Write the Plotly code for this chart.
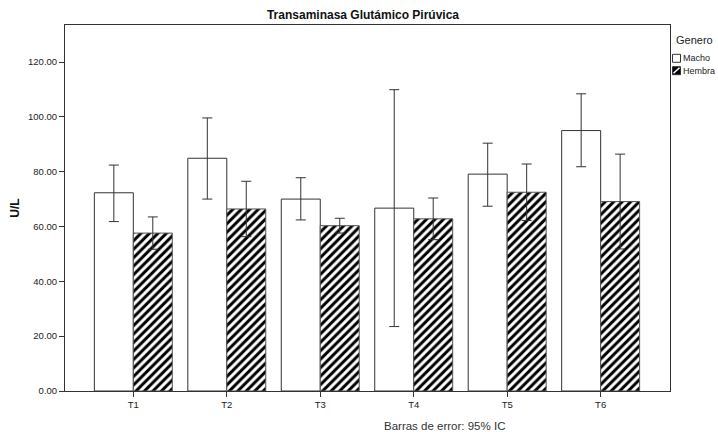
import plotly.graph_objects as go

categories = ["T1", "T2", "T3", "T4", "T5", "T6"]
macho_mean = [72.3, 84.9, 70.0, 66.7, 79.1, 95.0]
macho_upper = [82.4, 99.6, 77.8, 109.9, 90.4, 108.4]
macho_lower = [61.8, 70.0, 62.4, 23.5, 67.4, 81.8]
hembra_mean = [57.6, 66.4, 60.3, 62.8, 72.5, 69.1]
hembra_upper = [63.5, 76.5, 63.0, 70.4, 82.8, 86.4]
hembra_lower = [51.7, 56.3, 57.6, 55.2, 62.2, 51.8]
series_names = ["Macho", "Hembra"]
legend_title = "Genero"

FONT = "Liberation Sans, Arial, sans-serif"
EC = "#333333"
W, H = 718, 432
ML, MR, MT, MB = 65, 48, 25, 41
PW, PH = W - ML - MR, H - MT - MB


def px(x):
    return (x - ML) / PW


def py(y):
    return (H - MB - y) / PH


def err(mean, up, lo):
    return dict(type="data", symmetric=False,
                array=[u - m for u, m in zip(up, mean)],
                arrayminus=[m - l for m, l in zip(mean, lo)],
                color=EC, thickness=1, width=5)


fig = go.Figure()
fig.add_trace(go.Bar(
    x=categories, y=macho_mean, name=series_names[0],
    marker=dict(color="white", line=dict(color=EC, width=1)),
    error_y=err(macho_mean, macho_upper, macho_lower),
))
fig.add_trace(go.Bar(
    x=categories, y=hembra_mean, name=series_names[1],
    marker=dict(color="black", line=dict(color="#555555", width=1),
                pattern=dict(shape="/", fillmode="replace", bgcolor="black",
                             fgcolor="white", fgopacity=1, size=6, solidity=0.5)),
    error_y=err(hembra_mean, hembra_upper, hembra_lower),
))

# manual legend (compact, like the original)
shapes = [
    dict(type="rect", xref="paper", yref="paper", x0=px(672.5), x1=px(680.5),
         y0=py(62.3), y1=py(54.3), fillcolor="white", line=dict(color=EC, width=1)),
    dict(type="rect", xref="paper", yref="paper", x0=px(672.5), x1=px(680.5),
         y0=py(74.7), y1=py(66.7), fillcolor="black", line=dict(color=EC, width=1)),
    dict(type="line", xref="paper", yref="paper", x0=px(673.5), x1=px(679.5),
         y0=py(73.2), y1=py(67.7), line=dict(color="white", width=1.5)),
]
annotations = [
    dict(text=legend_title, xref="paper", yref="paper", x=px(674), y=py(40),
         xanchor="left", yanchor="middle", showarrow=False,
         font=dict(size=11, color="#222222")),
    dict(text=series_names[0], xref="paper", yref="paper", x=px(681), y=py(58.3),
         xanchor="left", yanchor="middle", showarrow=False,
         font=dict(size=9, color="#222222")),
    dict(text=series_names[1], xref="paper", yref="paper", x=px(681), y=py(70.7),
         xanchor="left", yanchor="middle", showarrow=False,
         font=dict(size=9, color="#222222")),
    dict(text="Barras de error: 95% IC", xref="paper", yref="paper",
         x=px(444), y=py(425.5), xanchor="center", yanchor="middle",
         showarrow=False, font=dict(size=11.5, color="#333333")),
]

fig.update_layout(
    width=W, height=H,
    margin=dict(l=ML, r=MR, t=MT, b=MB, pad=0, autoexpand=False),
    paper_bgcolor="white", plot_bgcolor="white",
    barmode="group", bargap=0.166, bargroupgap=0,
    font=dict(family=FONT, size=9.5, color="#222222"),
    title=dict(text="<b>Transaminasa Glutámico Pirúvica</b>", x=px(363),
               xanchor="center", xref="paper",
               y=1 - 15 / H, yanchor="middle", font=dict(size=12, color="#111111")),
    showlegend=False,
    shapes=shapes,
    annotations=annotations,
)
fig.update_xaxes(range=[-0.731, 5.742], showline=True, linecolor=EC, linewidth=1,
                 mirror=True, ticks="outside", ticklen=5, tickcolor=EC,
                 showgrid=False, tickfont=dict(size=9.5), automargin=False)
fig.update_yaxes(range=[0, 133.5], showline=True, linecolor=EC, linewidth=1,
                 mirror=True, ticks="outside", ticklen=5, tickcolor=EC,
                 tickvals=[0, 20, 40, 60, 80, 100, 120], tickformat=".2f",
                 showgrid=False, zeroline=False, tickfont=dict(size=9.5), automargin=False,
                 title=dict(text="<b>U/L</b>", font=dict(size=12, color="#111111"), standoff=5))

fig.write_html("out.html", config={"displayModeBar": False},
               post_script="document.body.style.margin='0';document.body.style.padding='0';")
